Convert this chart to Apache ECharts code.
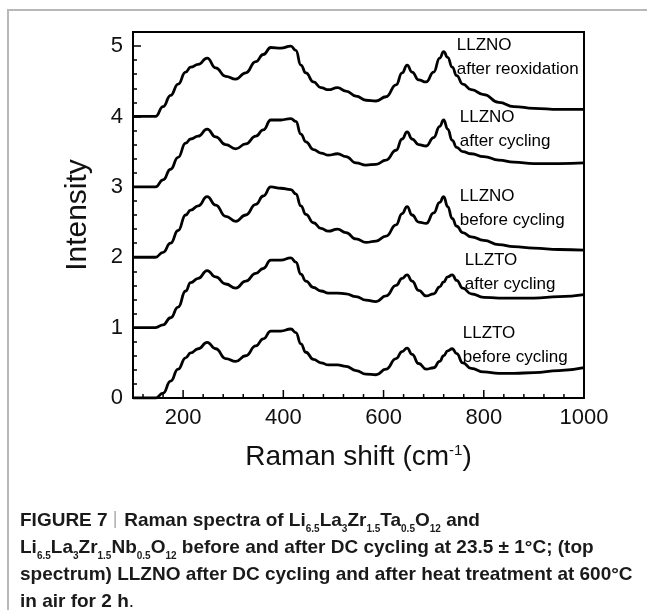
<!DOCTYPE html>
<html>
<head>
<meta charset="utf-8">
<script src="https://cdn.jsdelivr.net/npm/echarts@6/dist/echarts.min.js"></script>
<style>
  html, body { margin: 0; padding: 0; background: #fff; }
  #chart { width: 647px; height: 610px; }
</style>
</head>
<body>
<div id="chart"></div>
<script>
// Raman shift (cm-1), shared by all spectra
const ramanShift = [100, 145, 160, 175, 190, 205, 215, 230, 248, 265, 285, 305, 325, 345, 360, 375, 395, 415, 425, 435,
  445, 460, 475, 490, 508, 525, 545, 565, 585, 605, 625, 637, 647, 657, 670, 685, 700, 712, 720, 728,
  737, 746, 758, 775, 800, 830, 860, 900, 950, 1000];

// offset spectra, bottom to top
const llztoBefore = [0.0, 0.0, 0.07, 0.24, 0.41, 0.57, 0.64, 0.70, 0.79, 0.70,
  0.56, 0.52, 0.60, 0.74, 0.84, 0.95, 0.95, 0.98, 0.93, 0.77,
  0.65, 0.55, 0.50, 0.47, 0.47, 0.45, 0.39, 0.34, 0.33, 0.41,
  0.56, 0.66, 0.71, 0.62, 0.49, 0.41, 0.43, 0.52, 0.60, 0.67,
  0.70, 0.63, 0.50, 0.42, 0.37, 0.35, 0.35, 0.36, 0.39, 0.43];
const llztoAfter = [1.0, 1.0, 1.04, 1.14, 1.29, 1.52, 1.64, 1.70, 1.81, 1.72,
  1.62, 1.56, 1.66, 1.77, 1.84, 1.96, 1.96, 1.99, 1.93, 1.76,
  1.66, 1.57, 1.52, 1.49, 1.49, 1.48, 1.44, 1.39, 1.37, 1.45,
  1.60, 1.70, 1.75, 1.66, 1.53, 1.45, 1.48, 1.58, 1.65, 1.72,
  1.75, 1.67, 1.56, 1.48, 1.43, 1.42, 1.42, 1.42, 1.44, 1.47];
const llznoBefore = [2.0, 2.0, 2.07, 2.20, 2.38, 2.60, 2.67, 2.73, 2.86, 2.74,
  2.58, 2.51, 2.60, 2.75, 2.87, 3.0, 2.98, 2.96, 2.90, 2.73,
  2.61, 2.49, 2.41, 2.37, 2.40, 2.35, 2.26, 2.21, 2.23, 2.30,
  2.46, 2.62, 2.72, 2.60, 2.50, 2.48, 2.63, 2.78, 2.86, 2.72,
  2.55, 2.44, 2.35, 2.29, 2.24, 2.18, 2.15, 2.13, 2.11, 2.10];
const llznoAfter = [3.0, 3.0, 3.10, 3.25, 3.42, 3.62, 3.68, 3.72, 3.82, 3.71,
  3.60, 3.54, 3.61, 3.72, 3.81, 3.95, 3.95, 3.97, 3.93, 3.75,
  3.64, 3.53, 3.48, 3.45, 3.47, 3.43, 3.34, 3.31, 3.32, 3.38,
  3.52, 3.68, 3.78, 3.68, 3.60, 3.58, 3.70, 3.86, 3.95, 3.82,
  3.66, 3.56, 3.50, 3.47, 3.43, 3.38, 3.35, 3.33, 3.33, 3.34];
const llznoReox = [4.0, 4.0, 4.14, 4.30, 4.46, 4.63, 4.70, 4.74, 4.83, 4.69,
  4.57, 4.53, 4.62, 4.78, 4.88, 4.98, 4.97, 5.0, 4.94, 4.73,
  4.62, 4.49, 4.41, 4.38, 4.41, 4.36, 4.29, 4.23, 4.22, 4.28,
  4.45, 4.62, 4.73, 4.63, 4.52, 4.49, 4.63, 4.83, 4.92, 4.84,
  4.70, 4.58, 4.46, 4.38, 4.31, 4.20, 4.14, 4.115, 4.10, 4.10];

const xTickLabels = [200, 400, 600, 800, 1000];
const xMinorTicks = [120, 160, 240, 280, 320, 360, 440, 480, 520, 560, 640, 680, 720, 760, 840, 880, 920, 960];
const yTickLabels = [0, 1, 2, 3, 4, 5];

const FONT = "Liberation Sans";

const pairs = (ys) => ramanShift.map((x, i) => [x, ys[i]]);

const isLabel = (list) => (v) => {
  const r = Math.round(v);
  return Math.abs(v - r) < 1e-6 && list.includes(r) ? String(r) : "";
};

const curve = (name, ys, text, at) => ({
  name,
  type: "line",
  data: pairs(ys),
  smooth: 0.5,
  smoothMonotone: "x",
  showSymbol: false,
  lineStyle: { color: "#000", width: 2.8 },
  markPoint: {
    symbol: "circle",
    symbolSize: 0,
    silent: true,
    data: [{ coord: at }],
    label: {
      show: true,
      position: "right",
      distance: 0,
      formatter: text,
      fontFamily: FONT,
      fontSize: 17,
      lineHeight: 24,
      color: "#000",
      align: "left",
    },
  },
});

// x ticks drawn through the axis scale (major 200s, minor every 40)
const tickSeries = {
  type: "custom",
  silent: true,
  clip: false,
  z: 5,
  data: [
    ...xTickLabels.filter((v) => v < 1000).map((v) => [v, 1]),
    ...xMinorTicks.map((v) => [v, 0]),
  ],
  renderItem: (params, api) => {
    const p = api.coord([api.value(0), 0]);
    const len = api.value(1) ? 8 : 4;
    return {
      type: "line",
      shape: { x1: p[0], y1: p[1], x2: p[0], y2: p[1] - len },
      style: { stroke: "#000", lineWidth: 1.5 },
    };
  },
};

const captionText =
  "FIGURE 7{sep| │ }Raman spectra of Li{s|6.5}La{s|3}Zr{s|1.5}Ta{s|0.5}O{s|12} and\n" +
  "Li{s|6.5}La{s|3}Zr{s|1.5}Nb{s|0.5}O{s|12} before and after DC cycling at 23.5 ± 1°C; (top\n" +
  "spectrum) LLZNO after DC cycling and after heat treatment at 600°C\n" +
  "in air for 2 h{n|.}";

const chart = echarts.init(document.getElementById("chart"));

const option = {
  animation: false,
  backgroundColor: "#fff",
  grid: {
    left: 133,
    right: 63,
    top: 32,
    bottom: 212,
    show: true,
    borderColor: "#000",
    borderWidth: 2,
  },
  xAxis: {
    type: "value",
    min: 100,
    max: 1000,
    interval: 100,
    axisLine: { onZero: false, lineStyle: { color: "#000", width: 2 } },
    axisTick: { show: false },
    splitLine: { show: false },
    axisLabel: {
      formatter: isLabel(xTickLabels),
      fontFamily: FONT,
      fontSize: 22,
      color: "#111",
      margin: 9,
    },
    name: "Raman shift (cm{sup|-1})",
    nameLocation: "middle",
    nameGap: 45,
    nameTextStyle: {
      fontFamily: FONT,
      fontSize: 28,
      color: "#111",
      rich: { sup: { fontFamily: FONT, fontSize: 15, lineHeight: 15, verticalAlign: "top", color: "#111" } },
    },
  },
  yAxis: [
    {
      type: "value",
      min: 0,
      max: 5.2,
      interval: 0.2,
      position: "left",
      axisLine: { onZero: false, lineStyle: { color: "#000", width: 2 } },
      axisTick: { inside: true, length: 4, lineStyle: { color: "#000", width: 1.5 } },
      splitLine: { show: false },
      axisLabel: {
        formatter: isLabel(yTickLabels),
        fontFamily: FONT,
        fontSize: 22,
        color: "#111",
        margin: 10,
      },
      name: "Intensity",
      nameLocation: "middle",
      nameGap: 40,
      nameRotate: 90,
      nameTextStyle: { fontFamily: FONT, fontSize: 30, color: "#111" },
    },
    {
      type: "value",
      min: 0,
      max: 5.2,
      interval: 1,
      position: "left",
      axisLine: { show: false, onZero: false },
      axisTick: { inside: true, length: 8, lineStyle: { color: "#000", width: 1.5 } },
      splitLine: { show: false },
      axisLabel: { show: false },
    },
  ],
  series: [
    curve("LLZTO before cycling", llztoBefore, "LLZTO\nbefore cycling", [758, 0.75]),
    curve("LLZTO after cycling", llztoAfter, "LLZTO\nafter cycling", [762, 1.78]),
    curve("LLZNO before cycling", llznoBefore, "LLZNO\nbefore cycling", [752, 2.70]),
    curve("LLZNO after cycling", llznoAfter, "LLZNO\nafter cycling", [752, 3.82]),
    curve("LLZNO after reoxidation", llznoReox, "LLZNO\nafter reoxidation", [746, 4.84]),
    tickSeries,
  ],
  graphic: [
    {
      type: "rect",
      silent: true,
      shape: { x: 8, y: 10, width: 720, height: 700 },
      style: { fill: "none", stroke: "#b8b8b8", lineWidth: 2 },
    },
    {
      type: "text",
      left: 20,
      top: 507,
      silent: true,
      style: {
        text: captionText,
        fill: "#1a1a1a",
        fontFamily: FONT,
        fontWeight: "bold",
        fontSize: 19,
        lineHeight: 27,
        rich: {
          s: { fontFamily: FONT, fontWeight: "bold", fontSize: 10, lineHeight: 15, verticalAlign: "bottom", fill: "#1a1a1a" },
          sep: { fontFamily: FONT, fontWeight: "normal", fontSize: 14, lineHeight: 27, fill: "#888" },
          n: { fontFamily: FONT, fontWeight: "normal", fontSize: 19, fill: "#1a1a1a" },
        },
      },
    },
  ],
};

chart.setOption(option);
</script>
</body>
</html>
